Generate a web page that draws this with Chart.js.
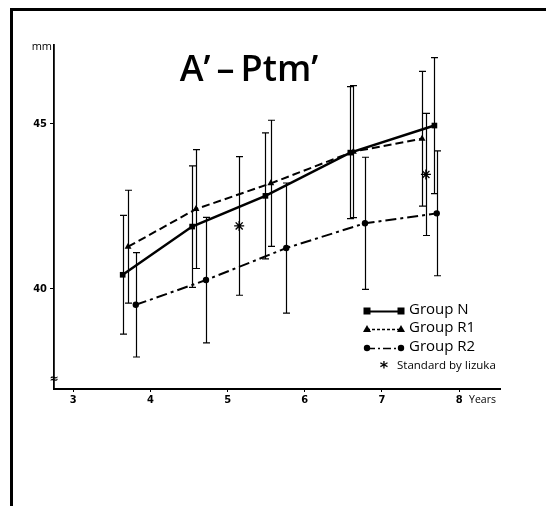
<!DOCTYPE html>
<html>
<head>
<meta charset="utf-8">
<style>
  html, body { margin: 0; padding: 0; background: #fff; }
  canvas { display: block; }
</style>
<script src="https://cdn.jsdelivr.net/npm/chart.js@4.4.1/dist/chart.umd.min.js"></script>
</head>
<body>
<canvas id="c" width="546" height="506"></canvas>
<script>
// ---- data (age in years, A'-Ptm' in mm) ----
const nAge   = [3.64, 4.54, 5.49, 6.59, 7.68];
const nMean  = [40.43, 41.89, 42.82, 44.13, 44.95];
const nSD    = [1.80, 1.84, 1.91, 2.00, 2.06];

const r1Age  = [3.71, 4.59, 5.56, 6.63, 7.52];
const r1Mean = [41.28, 42.42, 43.20, 44.16, 44.55];
const r1SD   = [1.71, 1.80, 1.91, 2.00, 2.04];

const r2Age  = [3.81, 4.72, 5.76, 6.78, 7.71];
const r2Mean = [39.52, 40.27, 41.24, 41.99, 42.29];
const r2SD   = [1.58, 1.90, 1.97, 2.00, 1.89];

const izAge  = [5.15, 7.57];
const izMean = [41.91, 43.47];
const izSD   = [2.10, 1.85];

const xTicks = [3, 4, 5, 6, 7, 8];
const yTicks = [40, 45];

const seriesLabels = ['Group N', 'Group R1', 'Group R2', 'Standard by Iizuka'];
const titleText = 'A\u2019\u2009\u2013\u2009Ptm\u2019';

// ---- helpers ----
const pts = (xs, ys) => xs.map((x, i) => ({ x: x, y: ys[i] }));
const errSets = [
  { age: nAge, mean: nMean, sd: nSD },
  { age: r1Age, mean: r1Mean, sd: r1SD },
  { age: r2Age, mean: r2Mean, sd: r2SD },
  { age: izAge, mean: izMean, sd: izSD }
];
const FONT = "'Open Sans', 'DejaVu Sans', sans-serif";

function drawMarker(ctx, style, x, y) {
  ctx.save();
  ctx.fillStyle = '#000';
  ctx.beginPath();
  if (style === 'rect') {
    ctx.fillRect(x - 3.5, y - 3.5, 7, 7);
  } else if (style === 'triangle') {
    ctx.moveTo(x, y - 4); ctx.lineTo(x + 4, y + 3); ctx.lineTo(x - 4, y + 3); ctx.closePath(); ctx.fill();
  } else if (style === 'circle') {
    ctx.arc(x, y, 3.2, 0, Math.PI * 2); ctx.fill();
  }
  ctx.restore();
}

const decor = {
  id: 'decor',
  beforeDraw(chart) {
    const ctx = chart.ctx;
    ctx.save();
    ctx.fillStyle = '#fff';
    ctx.fillRect(0, 0, chart.width, chart.height);
    ctx.fillStyle = '#000';
    // scanned page frame (top and left)
    ctx.fillRect(10, 8, chart.width - 10, 3);
    ctx.fillRect(10, 8, 3, chart.height - 8);
    ctx.restore();
  },
  afterDatasetsDraw(chart) {
    const ctx = chart.ctx;
    const xs = chart.scales.x, ys = chart.scales.y;
    ctx.save();
    ctx.strokeStyle = '#000';
    ctx.lineWidth = 1.2;
    errSets.forEach(s => {
      s.age.forEach((a, i) => {
        const px = Math.round(xs.getPixelForValue(a)) + 0.5;
        const top = ys.getPixelForValue(s.mean[i] + s.sd[i]);
        const bot = ys.getPixelForValue(s.mean[i] - s.sd[i]);
        ctx.beginPath();
        ctx.moveTo(px, top); ctx.lineTo(px, bot);
        ctx.moveTo(px - 3.5, top); ctx.lineTo(px + 3.5, top);
        ctx.moveTo(px - 3.5, bot); ctx.lineTo(px + 3.5, bot);
        ctx.stroke();
      });
    });
    ctx.restore();
  },
  afterDraw(chart) {
    const ctx = chart.ctx;
    const xs = chart.scales.x;
    const area = chart.chartArea;
    ctx.save();
    ctx.fillStyle = '#000';
    // title
    ctx.font = '600 36px ' + FONT;
    ctx.textAlign = 'center';
    ctx.textBaseline = 'alphabetic';
    ctx.fillText(titleText, 249, 81);
    // unit
    ctx.font = '11px ' + FONT;
    ctx.textAlign = 'right';
    ctx.textBaseline = 'middle';
    ctx.fillText('mm', area.left - 2, area.top + 2);
    // axis break
    ctx.font = 'bold 11px DejaVu Sans';
    ctx.textAlign = 'center';
    ctx.fillText('\u2248', area.left, area.bottom - 10);
    // Years
    ctx.font = '10.5px ' + FONT;
    ctx.textAlign = 'left';
    ctx.fillText('Years', xs.getPixelForValue(8) + 10, area.bottom + 11);

    // legend
    const lx0 = 367, lx1 = 401, tx = 409;
    const rows = [
      { y: 311, dash: [], lw: 1.8, m: 'rect' },
      { y: 329, dash: [3, 2], lw: 1.4, m: 'triangle' },
      { y: 348, dash: [8, 3, 2, 3], lw: 1.6, m: 'circle' }
    ];
    rows.forEach((r, i) => {
      ctx.save();
      ctx.strokeStyle = '#000';
      ctx.lineWidth = r.lw;
      ctx.setLineDash(r.dash);
      ctx.beginPath();
      ctx.moveTo(lx0, r.y + 0.5); ctx.lineTo(lx1, r.y + 0.5);
      ctx.stroke();
      ctx.restore();
      drawMarker(ctx, r.m, lx0, r.y);
      drawMarker(ctx, r.m, lx1, r.y);
      ctx.font = '15px ' + FONT;
      ctx.textAlign = 'left';
      ctx.textBaseline = 'middle';
      ctx.fillText(seriesLabels[i], tx, r.y - 1);
    });
    ctx.font = 'bold 16px DejaVu Sans';
    ctx.textAlign = 'center';
    ctx.fillText('*', 384, 369);
    ctx.font = '11.5px ' + FONT;
    ctx.textAlign = 'left';
    ctx.fillText(seriesLabels[3], 397, 366);
    ctx.restore();
  }
};

const tickFont = { family: "'DejaVu Sans Condensed', 'DejaVu Sans', sans-serif", weight: 'bold', size: 11 };

new Chart(document.getElementById('c'), {
  type: 'scatter',
  data: {
    datasets: [
      { label: seriesLabels[0], data: pts(nAge, nMean), showLine: true,
        borderColor: '#000', backgroundColor: '#000', borderWidth: 2.5,
        pointStyle: 'rect', pointRadius: 4, pointBorderWidth: 0 },
      { label: seriesLabels[1], data: pts(r1Age, r1Mean), showLine: true,
        borderColor: '#000', backgroundColor: '#000', borderWidth: 2, borderDash: [8, 4],
        pointStyle: 'triangle', pointRadius: 4, pointBorderWidth: 0 },
      { label: seriesLabels[2], data: pts(r2Age, r2Mean), showLine: true,
        borderColor: '#000', backgroundColor: '#000', borderWidth: 2, borderDash: [11, 4, 3, 4],
        pointStyle: 'circle', pointRadius: 3.2, pointBorderWidth: 0 },
      { label: seriesLabels[3], data: pts(izAge, izMean), showLine: false,
        borderColor: '#000', backgroundColor: '#000', borderWidth: 1.4,
        pointStyle: 'star', pointRadius: 5, pointBorderWidth: 1.4 }
    ]
  },
  options: {
    responsive: false,
    animation: false,
    devicePixelRatio: 1,
    layout: { padding: { left: 0, right: 46, top: 45, bottom: 0 } },
    plugins: { legend: { display: false }, tooltip: { enabled: false }, title: { display: false } },
    scales: {
      x: {
        type: 'linear', min: 2.75, max: 8.53,
        afterBuildTicks: ax => { ax.ticks = xTicks.map(v => ({ value: v })); },
        afterFit: ax => { ax.height = 117; },
        grid: { display: true, drawOnChartArea: false, drawTicks: true, tickLength: 3, color: '#000', lineWidth: 1 },
        border: { display: true, color: '#000', width: 2 },
        ticks: { color: '#000', font: tickFont, padding: 2, maxRotation: 0, autoSkip: false }
      },
      y: {
        type: 'linear', min: 36.97, max: 47.39,
        afterBuildTicks: ax => { ax.ticks = yTicks.map(v => ({ value: v })); },
        afterFit: ax => { ax.width = 54; },
        grid: { display: true, drawOnChartArea: false, drawTicks: true, tickLength: 4, color: '#000', lineWidth: 1 },
        border: { display: true, color: '#000', width: 1.8 },
        ticks: { color: '#000', font: tickFont, padding: 3, autoSkip: false }
      }
    }
  },
  plugins: [decor]
});
</script>
</body>
</html>
